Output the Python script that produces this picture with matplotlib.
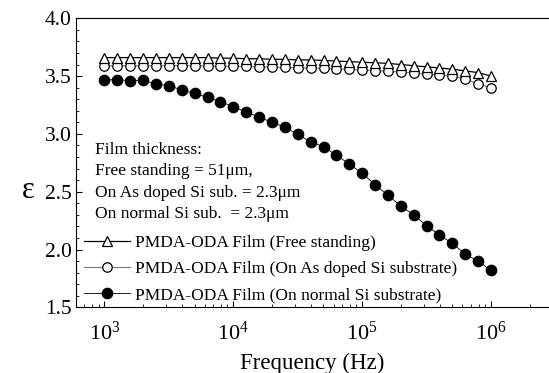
import matplotlib
matplotlib.use('Agg')
import matplotlib.pyplot as plt
import numpy as np
from matplotlib.ticker import MultipleLocator, LogLocator, NullFormatter

plt.rcParams['font.family'] = ['Liberation Serif', 'DejaVu Serif']
plt.rcParams['mathtext.fontset'] = 'stix'

# 10 points per decade, 1 kHz .. 1 MHz
freq = 10 ** (np.arange(31) / 10.0 + 3)

eps_free = [3.66, 3.66, 3.66, 3.66, 3.66, 3.66, 3.66, 3.66, 3.66, 3.655,
            3.655, 3.65, 3.65, 3.645, 3.645, 3.64, 3.64, 3.635, 3.63, 3.625,
            3.62, 3.615, 3.61, 3.60, 3.59, 3.58, 3.57, 3.56, 3.545, 3.53, 3.50]
eps_asdoped = [3.59, 3.59, 3.59, 3.59, 3.59, 3.59, 3.59, 3.59, 3.588, 3.586,
               3.585, 3.583, 3.58, 3.578, 3.575, 3.572, 3.57, 3.566, 3.562, 3.558,
               3.553, 3.548, 3.542, 3.535, 3.527, 3.518, 3.51, 3.50, 3.475, 3.43, 3.40]
eps_normal = [3.466, 3.47, 3.46, 3.466, 3.43, 3.417, 3.38, 3.35, 3.317, 3.28,
              3.235, 3.19, 3.145, 3.10, 3.057, 2.997, 2.93, 2.89, 2.815, 2.74,
              2.66, 2.56, 2.47, 2.376, 2.30, 2.206, 2.125, 2.053, 1.96, 1.90, 1.82]

labels = ['PMDA-ODA Film (Free standing)',
          'PMDA-ODA Film (On As doped Si substrate)',
          'PMDA-ODA Film (On normal Si substrate)']

fig = plt.figure(figsize=(5.49, 3.73), dpi=100)
ax = fig.add_axes([0.1384, 0.176, 0.8616, 0.775])

ax.plot(freq, eps_asdoped, color='#808080', lw=0.9, marker='o', ms=6.8,
        mfc='white', mec='black', mew=0.9, label=labels[1])
ax.plot(freq, eps_free, color='black', lw=0.9, marker='^', ms=7.5,
        mfc='white', mec='black', mew=0.9, label=labels[0])
ax.plot(freq, eps_normal, color='black', lw=0.6, marker='o', ms=7.4,
        mfc='black', mec='black', label=labels[2])

ax.set_xscale('log')
ax.set_xlim(10 ** 2.779, 10 ** 6.45)
ax.set_ylim(1.5, 4.0)
ax.yaxis.set_major_locator(MultipleLocator(0.5))
ax.yaxis.set_minor_locator(MultipleLocator(0.1))
ax.xaxis.set_major_locator(LogLocator(base=10, numticks=10))
ax.xaxis.set_minor_locator(LogLocator(base=10, subs=np.arange(2, 10), numticks=20))
ax.xaxis.set_minor_formatter(NullFormatter())
ax.yaxis.set_major_formatter(matplotlib.ticker.FormatStrFormatter('%.1f'))

ax.tick_params(axis='both', which='both', direction='in', top=False, right=False)
ax.tick_params(axis='both', which='major', length=4, width=0.8)
ax.tick_params(axis='both', which='minor', length=2, width=0.6)
ax.tick_params(axis='y', labelsize=15.5, pad=3)
ax.tick_params(axis='x', labelsize=16, pad=10)
ax.spines['right'].set_visible(False)

ax.set_xlabel('Frequency (Hz)', fontsize=16.5, labelpad=6)
fig.text(28 / 549, 1 - 190 / 373, 'ε', fontsize=22, ha='center', va='center')

notes = ['Film thickness:', 'Free standing = 51μm,',
         'On As doped Si sub. = 2.3μm', 'On normal Si sub.  = 2.3μm']
for i, t in enumerate(notes):
    ax.text(0.04, 0.544 - i * 0.0737, t, transform=ax.transAxes,
            fontsize=12.5, va='center', ha='left')

h, l = ax.get_legend_handles_labels()
order = [1, 0, 2]
ax.legend([h[i] for i in order], [l[i] for i in order], loc='lower left',
          bbox_to_anchor=(-0.005, -0.022), frameon=False, fontsize=12.5,
          handlelength=2.65, handletextpad=0.3, labelspacing=0.58,
          borderaxespad=0.2, numpoints=1)

fig.savefig('out.png', dpi=100)
